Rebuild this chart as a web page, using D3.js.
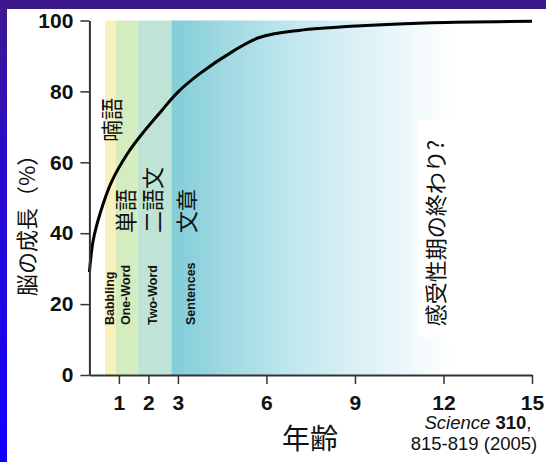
<!DOCTYPE html>
<html><head><meta charset="utf-8">
<script src="https://cdn.jsdelivr.net/npm/d3@7"></script>
<style>
html,body{margin:0;padding:0;background:#fff;}
svg{display:block;}
</style></head>
<body>
<svg id="chart" width="546" height="462"></svg>
<script>
// ---- data ----
const ages   = [0, 0.13, 0.36, 0.75, 1.31, 1.88, 2.44, 3.0, 3.74, 4.86, 5.76, 7.1, 9.37, 11.6, 15];
const growth = [29, 38, 45.5, 54.5, 62.7, 69, 74.5, 79.8, 85, 91.3, 95.2, 97.2, 98.6, 99.4, 99.8];
const xTicks = [1, 2, 3, 6, 9, 12, 15];
const yTicks = [0, 20, 40, 60, 80, 100];
const stageNames = ["Babbling", "One-Word", "Two-Word", "Sentences"];
const stageJa    = ["喃語", "単語", "二語文", "文章"];
const stageStart = [0.53, 0.9, 1.63, 2.78];
const stageEnd   = [0.9, 1.63, 2.78, 15];
const stageColor = ["#f7f1bb", "#d5ecc1", "#bfe4d6", "#84ced9"];
const yTitle = "脳の成長（%）";
const xTitle = "年齢";
const periodNote = "感受性期の終わり?";

const svg = d3.select("#chart");
const W = 546, H = 462;

// background frame
const defs = svg.append("defs");
const bg = defs.append("linearGradient").attr("id","bg").attr("x1",0).attr("y1",0).attr("x2",0).attr("y2",1);
bg.append("stop").attr("offset","0%").attr("stop-color","#3d178c");
bg.append("stop").attr("offset","35%").attr("stop-color","#2a0ccc");
bg.append("stop").attr("offset","100%").attr("stop-color","#1200ff");
svg.append("rect").attr("width",W).attr("height",H).attr("fill","url(#bg)");
svg.append("rect").attr("x",0).attr("y",0).attr("width",W).attr("height",9).attr("fill","#3d178c");
svg.append("rect").attr("x",7).attr("y",9).attr("width",W-7).attr("height",H-9).attr("fill","#ffffff");

const x = d3.scaleLinear().domain([0,15]).range([89.4, 532]);
const y = d3.scaleLinear().domain([0,100]).range([375, 20.5]);

// sentences gradient
const sg = defs.append("linearGradient").attr("id","sent").attr("x1",0).attr("y1",0).attr("x2",1).attr("y2",0);
sg.append("stop").attr("offset","0%").attr("stop-color","#80cdd8");
sg.append("stop").attr("offset","12%").attr("stop-color","#9ad6df");
sg.append("stop").attr("offset","35%").attr("stop-color","#c3e8ef");
sg.append("stop").attr("offset","60%").attr("stop-color","#e6f5f9");
sg.append("stop").attr("offset","78%").attr("stop-color","#ffffff");
sg.append("stop").attr("offset","100%").attr("stop-color","#ffffff");

svg.append("g").selectAll("rect").data(stageStart).join("rect")
  .attr("x", (d)=>x(d))
  .attr("y", y(100))
  .attr("width", (d,i)=>x(stageEnd[i]) - x(d))
  .attr("height", y(0) - y(100))
  .attr("fill", (d,i)=> i===3 ? "url(#sent)" : stageColor[i]);

// note box
const noteG = svg.append("g");
noteG.append("rect").attr("x",418).attr("y",120).attr("width",36).attr("height",217).attr("fill","#ffffff");
noteG.append("text").attr("transform","translate(444,233) rotate(-90)")
  .attr("text-anchor","middle").attr("font-family","'Noto Sans CJK JP', sans-serif")
  .attr("font-size",22).attr("fill","#111").text(periodNote);

// stage labels (Japanese)
const jaX = [112, 126, 153, 187];
const jaBottom = [142, 233, 233, 233];
svg.append("g").selectAll("text").data(stageJa).join("text")
  .attr("transform",(d,i)=>`translate(${jaX[i]+8},${jaBottom[i]}) rotate(-90)`)
  .attr("font-family","'Noto Sans CJK JP', sans-serif")
  .attr("font-size",22).attr("fill","#111").text(d=>d);

// stage labels (English)
const enX = [109, 125.5, 152.5, 190];
svg.append("g").selectAll("text").data(stageNames).join("text")
  .attr("transform",(d,i)=>`translate(${enX[i]+4.5},325) rotate(-90)`)
  .attr("font-family","'Liberation Sans', Arial, sans-serif")
  .attr("font-weight","bold").attr("font-size",12.5).attr("fill","#111").text(d=>d);

// curve
const line = d3.line().x((d,i)=>x(ages[i])).y(d=>y(d)).curve(d3.curveCatmullRom.alpha(0.5));
svg.append("path").datum(growth).attr("d", line)
  .attr("fill","none").attr("stroke","#000").attr("stroke-width",3);

// axes
const yAxis = d3.axisLeft(y).tickValues(yTicks).tickSize(9).tickPadding(7).tickSizeOuter(0);
const gy = svg.append("g").attr("transform",`translate(${x(0)},0)`).call(yAxis);
const xAxis = d3.axisBottom(x).tickValues(xTicks).tickSize(9).tickPadding(11).tickSizeOuter(0);
const gx = svg.append("g").attr("transform",`translate(0,${y(0)})`).call(xAxis);
[gy,gx].forEach(g=>{
  g.select(".domain").attr("stroke","#333").attr("stroke-width",2);
  g.selectAll(".tick line").attr("stroke","#333").attr("stroke-width",1.5);
  g.selectAll(".tick text").attr("fill","#111")
    .attr("font-family","'Liberation Sans', Arial, sans-serif")
    .attr("font-weight","bold").attr("font-size",21);
});
gy.selectAll(".tick text").attr("x",-16);

// titles
svg.append("text").attr("transform","translate(35,220) rotate(-90)")
  .attr("text-anchor","middle").attr("font-family","'Noto Sans CJK JP', sans-serif")
  .attr("font-size",22).attr("fill","#111").text(yTitle);
svg.append("text").attr("x",310).attr("y",449)
  .attr("text-anchor","middle").attr("font-family","'Noto Sans CJK JP', sans-serif")
  .attr("font-size",28).attr("fill","#111").text(xTitle);

const cite = svg.append("text").attr("x",478).attr("y",429).attr("text-anchor","middle")
  .attr("font-family","'Liberation Sans', Arial, sans-serif").attr("font-size",18.5).attr("fill","#111");
cite.append("tspan").attr("font-style","italic").text("Science ");
cite.append("tspan").attr("font-weight","bold").text("310");
cite.append("tspan").text(",");
svg.append("text").attr("x",474).attr("y",450).attr("text-anchor","middle")
  .attr("font-family","'Liberation Sans', Arial, sans-serif").attr("font-size",18.5).attr("fill","#111")
  .text("815-819 (2005)");
</script>
</body></html>
